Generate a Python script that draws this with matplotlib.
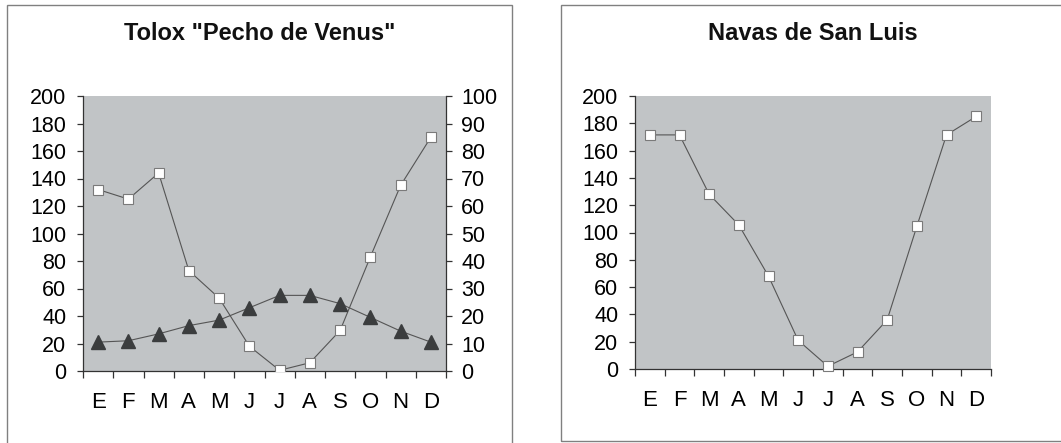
import numpy as np
import matplotlib
matplotlib.use("Agg")
import matplotlib.pyplot as plt
from matplotlib.patches import Rectangle

plt.rcParams['font.family'] = ['Liberation Sans', 'DejaVu Sans']

# monthly climate data
months = ["E", "F", "M", "A", "M", "J", "J", "A", "S", "O", "N", "D"]
tolox_precip = [132, 125, 144, 73, 53, 18, 0.5, 6, 29.5, 83, 135, 170]
tolox_temp = [10.5, 11, 13.5, 16.5, 18.5, 23, 27.5, 27.5, 24.5, 19.5, 14.5, 10.5]
navas_precip = [171.5, 171.5, 128, 105.5, 68, 21, 2, 12.5, 36, 104.5, 171.5, 185]

W, H = 1061, 443
bg = "#c1c4c6"
line_col = "#555555"

fig = plt.figure(figsize=(W / 100, H / 100), dpi=100)

# outer frames around each chart
fig.add_artist(Rectangle((7 / W, 1 - 446 / H), 505 / W, 441 / H, transform=fig.transFigure,
                         fill=False, edgecolor="#808080", linewidth=1.0))
fig.add_artist(Rectangle((561 / W, 1 - 441 / H), 510 / W, 436 / H, transform=fig.transFigure,
                         fill=False, edgecolor="#808080", linewidth=1.0))


def px_axes(left, top, right, bottom):
    return fig.add_axes([left / W, 1 - bottom / H, (right - left) / W, (bottom - top) / H])


def style_axes(ax, ypad):
    x = np.arange(len(months))
    ax.set_facecolor(bg)
    ax.set_xlim(-0.5, len(months) - 0.5)
    ax.set_ylim(0, 200)
    ax.set_yticks(range(0, 201, 20))
    ax.set_xticks(x)
    ax.set_xticklabels(months)
    ax.set_xticks(np.arange(-0.5, len(months)), minor=True)
    ax.tick_params(axis="x", which="major", length=0, pad=15, labelsize=16)
    ax.tick_params(axis="x", which="minor", length=5, width=0.9, color="#333333", direction="out")
    ax.tick_params(axis="y", length=4, width=0.9, color="#333333", pad=ypad, labelsize=15.5)
    for s in ["top", "right"]:
        ax.spines[s].set_visible(False)
    for s in ["left", "bottom"]:
        ax.spines[s].set_color("#333333")
        ax.spines[s].set_linewidth(0.9)
    return x


# Tolox "Pecho de Venus"
ax1 = px_axes(83, 96, 446, 371)
x = style_axes(ax1, 8)
ax1.plot(x, tolox_precip, color=line_col, linewidth=0.8, marker="s", markersize=6.5,
         markerfacecolor="white", markeredgecolor="#7a7a7a", markeredgewidth=0.8, zorder=4)

ax1r = ax1.twinx()
ax1r.set_ylim(0, 100)
ax1r.set_yticks(range(0, 101, 10))
ax1r.tick_params(axis="y", length=4, width=0.9, color="#333333", pad=7, labelsize=15.5)
for s in ["top", "left", "bottom"]:
    ax1r.spines[s].set_visible(False)
ax1r.spines["right"].set_color("#333333")
ax1r.spines["right"].set_linewidth(0.9)
ax1r.plot(x, tolox_temp, color=line_col, linewidth=0.8, marker="^", markersize=10.5,
          markerfacecolor="#3b3d3e", markeredgecolor="#3b3d3e", zorder=3)
ax1r.set_xlim(-0.5, len(months) - 0.5)

fig.text(260 / W, 1 - 34 / H, 'Tolox "Pecho de Venus"', ha="center", va="center",
         fontsize=17, fontweight="bold", color="#111111")

# Navas de San Luis
ax2 = px_axes(635, 96, 991, 369)
x = style_axes(ax2, 8)
ax2.plot(x, navas_precip, color=line_col, linewidth=0.8, marker="s", markersize=6.5,
         markerfacecolor="white", markeredgecolor="#7a7a7a", markeredgewidth=0.8, zorder=4,
         clip_on=False)

fig.text(813 / W, 1 - 34 / H, "Navas de San Luis", ha="center", va="center",
         fontsize=17, fontweight="bold", color="#111111")

fig.savefig("out.png", dpi=100, facecolor="white")
